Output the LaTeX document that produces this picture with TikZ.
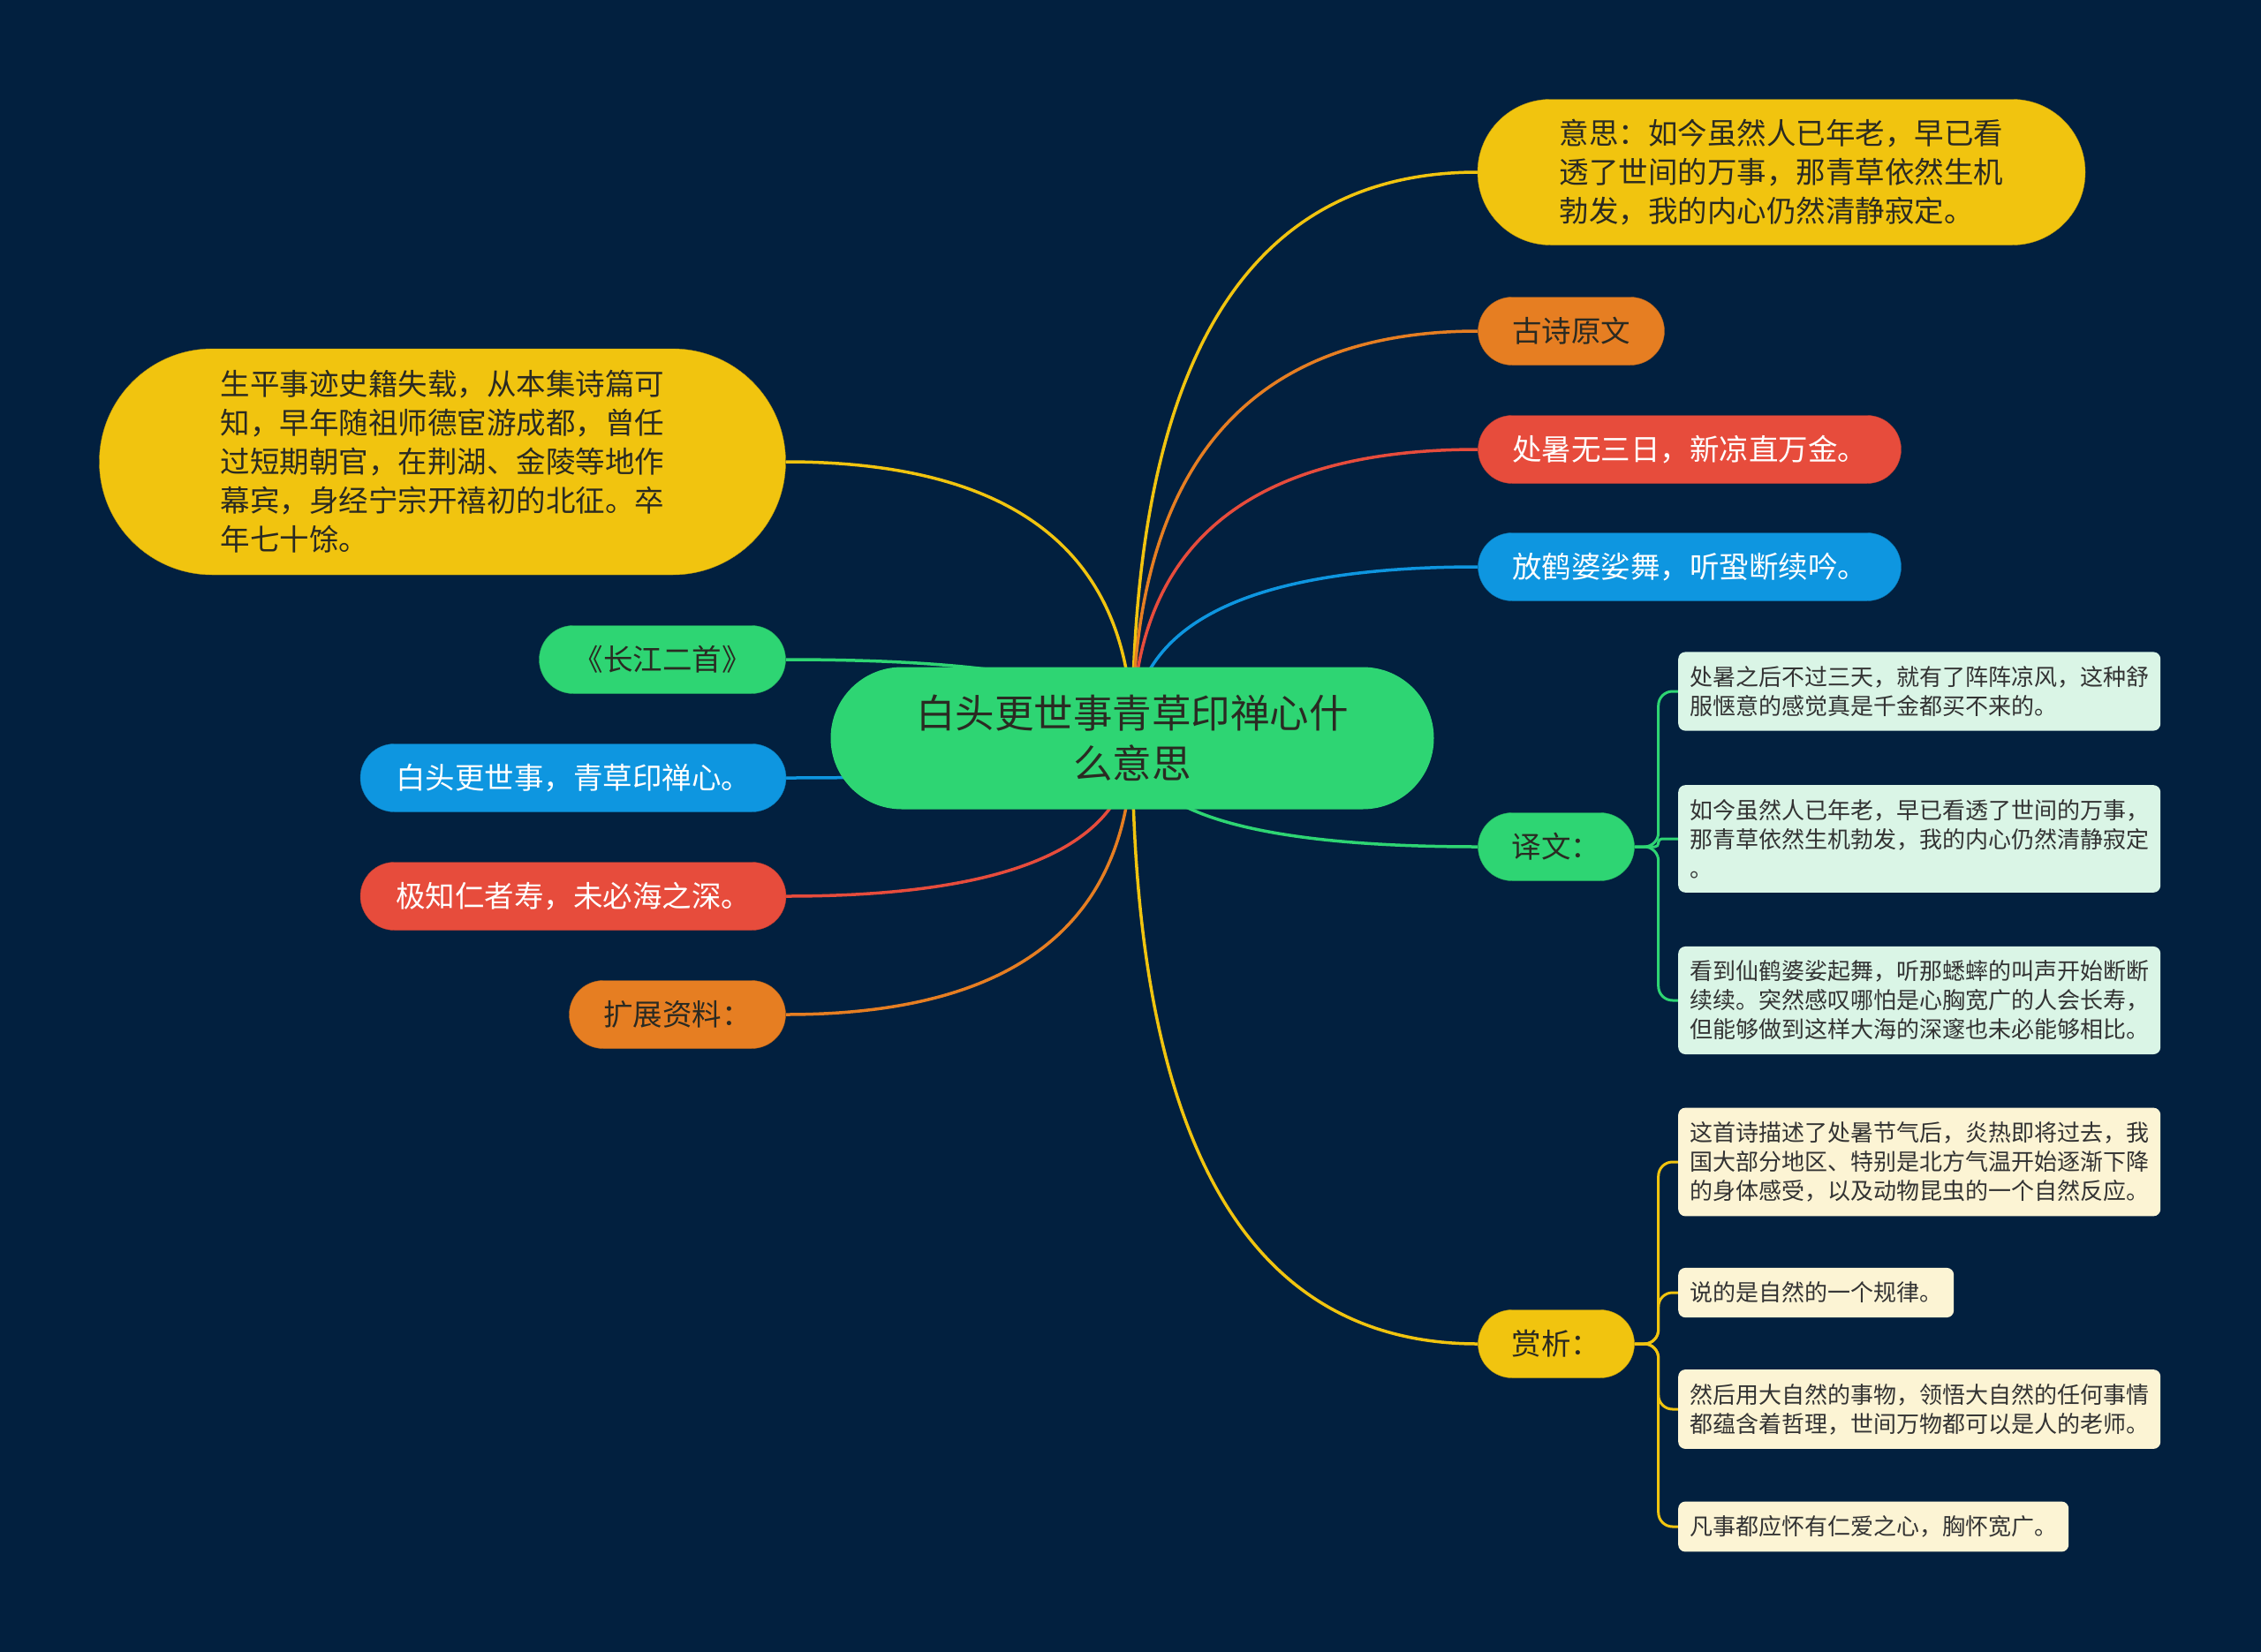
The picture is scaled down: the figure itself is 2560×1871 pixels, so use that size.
\documentclass[tikz,border=0pt]{standalone}
\usepackage{fontspec}
\setmainfont{Noto Sans CJK SC}
\usepackage{tikz}
\usetikzlibrary{calc,backgrounds}
\definecolor{navy}{HTML}{02203F}
\definecolor{mapgreen}{HTML}{2ED573}
\definecolor{mapyellow}{HTML}{F1C40F}
\definecolor{maporange}{HTML}{E67E22}
\definecolor{mapred}{HTML}{E74C3C}
\definecolor{mapblue}{HTML}{0E96E0}
\definecolor{leafgreen}{HTML}{DAF5E6}
\definecolor{leafcream}{HTML}{FCF4D4}
\definecolor{darktext}{HTML}{2A2A22}
\definecolor{leaftext}{HTML}{333333}

\begin{document}
\begin{tikzpicture}[x=1pt, y=-1pt, every node/.style={align=center},
  pill/.style={rectangle, rounded corners=38.5pt, minimum height=77pt, inner sep=0pt,
    font=\fontsize{33.5}{44}\selectfont},
  leaf/.style={rectangle, rounded corners=8pt, anchor=west, align=left, inner xsep=13pt,
    inner ysep=16pt, text=leaftext, font=\fontsize{26}{33}\selectfont},
  link/.style={line width=3.5pt},
  twig/.style={line width=3pt, rounded corners=16pt},
  branch/.style={to path={.. controls ($(\tikztostart)!0.667!(\tikztostart |- \tikztotarget)$)
    and ($(\tikztotarget)!0.667!(\tikztostart |- \tikztotarget)$) .. (\tikztotarget)}}]
\useasboundingbox (0,0) rectangle (2560,1871);

% centre
\node[rectangle, fill=mapgreen, text=darktext, rounded corners=80.5pt, minimum width=683pt,
  minimum height=161pt, font=\fontsize{44.5}{57}\selectfont] (root) at (1282,836)
  {白头更世事青草印禅心什\\么意思};

% right side
\node[pill, fill=mapyellow, draw=mapyellow!80!black, text=darktext, align=left, rounded corners=82.5pt,
  minimum width=688pt, minimum height=165pt] (mean) at (2017,195)
  {意思：如今虽然人已年老，早已看\\透了世间的万事，那青草依然生机\\勃发，我的内心仍然清静寂定。};
\node[pill, fill=maporange, draw=maporange!80!black, text=darktext, minimum width=211pt] (poem) at (1779,375) {古诗原文};
\node[pill, fill=mapred, draw=mapred!80!black, text=white, minimum width=479pt] (line1) at (1913,509) {处暑无三日，新凉直万金。};
\node[pill, fill=mapblue, draw=mapblue!80!black, text=white, minimum width=479pt] (line2) at (1913,642) {放鹤婆娑舞，听蛩断续吟。};
\node[pill, fill=mapgreen, draw=mapgreen!80!black, text=darktext, minimum width=177pt] (yiwen) at (1762,959) {译文：};
\node[pill, fill=mapyellow, draw=mapyellow!80!black, text=darktext, minimum width=177pt] (shangxi) at (1762,1522) {赏析：};

% left side
\node[pill, fill=mapyellow, draw=mapyellow!80!black, text=darktext, align=left, rounded corners=128pt,
  minimum width=777pt, minimum height=256pt] (life) at (501,523)
  {生平事迹史籍失载，从本集诗篇可\\知，早年随祖师德宦游成都，曾任\\过短期朝官，在荆湖、金陵等地作\\幕宾，身经宁宗开禧初的北征。卒\\年七十馀。};
\node[pill, fill=mapgreen, draw=mapgreen!80!black, text=darktext, minimum width=279pt] (title) at (750,747) {《长江二首》};
\node[pill, fill=mapblue, draw=mapblue!80!black, text=white, minimum width=482pt] (verse1) at (649,881) {白头更世事，青草印禅心。};
\node[pill, fill=mapred, draw=mapred!80!black, text=white, minimum width=482pt] (verse2) at (649,1015) {极知仁者寿，未必海之深。};
\node[pill, fill=maporange, draw=maporange!80!black, text=darktext, minimum width=245pt] (more) at (767,1149) {扩展资料：};

% leaves
\node[leaf, fill=leafgreen] (y1) at (1900,783)
  {处暑之后不过三天，就有了阵阵凉风，这种舒\\服惬意的感觉真是千金都买不来的。};
\node[leaf, fill=leafgreen] (y2) at (1900,950)
  {如今虽然人已年老，早已看透了世间的万事，\\那青草依然生机勃发，我的内心仍然清静寂定\\。};
\node[leaf, fill=leafgreen] (y3) at (1900,1133)
  {看到仙鹤婆娑起舞，听那蟋蟀的叫声开始断断\\续续。突然感叹哪怕是心胸宽广的人会长寿，\\但能够做到这样大海的深邃也未必能够相比。};
\node[leaf, fill=leafcream] (s1) at (1900,1316)
  {这首诗描述了处暑节气后，炎热即将过去，我\\国大部分地区、特别是北方气温开始逐渐下降\\的身体感受，以及动物昆虫的一个自然反应。};
\node[leaf, fill=leafcream] (s2) at (1900,1464) {说的是自然的一个规律。};
\node[leaf, fill=leafcream] (s3) at (1900,1596)
  {然后用大自然的事物，领悟大自然的任何事情\\都蕴含着哲理，世间万物都可以是人的老师。};
\node[leaf, fill=leafcream] (s4) at (1900,1729) {凡事都应怀有仁爱之心，胸怀宽广。};

\begin{pgfonlayer}{background}
\fill[navy] (0,0) rectangle (2560,1871);
\draw[link, mapyellow] (root.center) to[branch] (mean.west);
\draw[link, maporange] (root.center) to[branch] (poem.west);
\draw[link, mapred] (root.center) to[branch] (line1.west);
\draw[link, mapblue] (root.center) to[branch] (line2.west);
\draw[link, mapgreen] (root.center) to[branch] (yiwen.west);
\draw[link, mapyellow] (root.center) to[branch] (shangxi.west);
\draw[link, mapyellow] (root.center) to[branch] (life.east);
\draw[link, mapgreen] (root.center) to[branch] (title.east);
\draw[link, mapblue] (root.center) to[branch] (verse1.east);
\draw[link, mapred] (root.center) to[branch] (verse2.east);
\draw[link, maporange] (root.center) to[branch] (more.east);
% brackets
\draw[twig, mapgreen] (yiwen.east) -- ++(27,0) |- (y1.west);
\draw[twig, mapgreen, rounded corners=4pt] (yiwen.east) -- ++(27,0) |- (y2.west);
\draw[twig, mapgreen] (yiwen.east) -- ++(27,0) |- (y3.west);
\draw[twig, mapyellow] (shangxi.east) -- ++(27,0) |- (s1.west);
\draw[twig, mapyellow] (shangxi.east) -- ++(27,0) |- (s2.west);
\draw[twig, mapyellow] (shangxi.east) -- ++(27,0) |- (s3.west);
\draw[twig, mapyellow] (shangxi.east) -- ++(27,0) |- (s4.west);
\end{pgfonlayer}
\end{tikzpicture}
\end{document}
